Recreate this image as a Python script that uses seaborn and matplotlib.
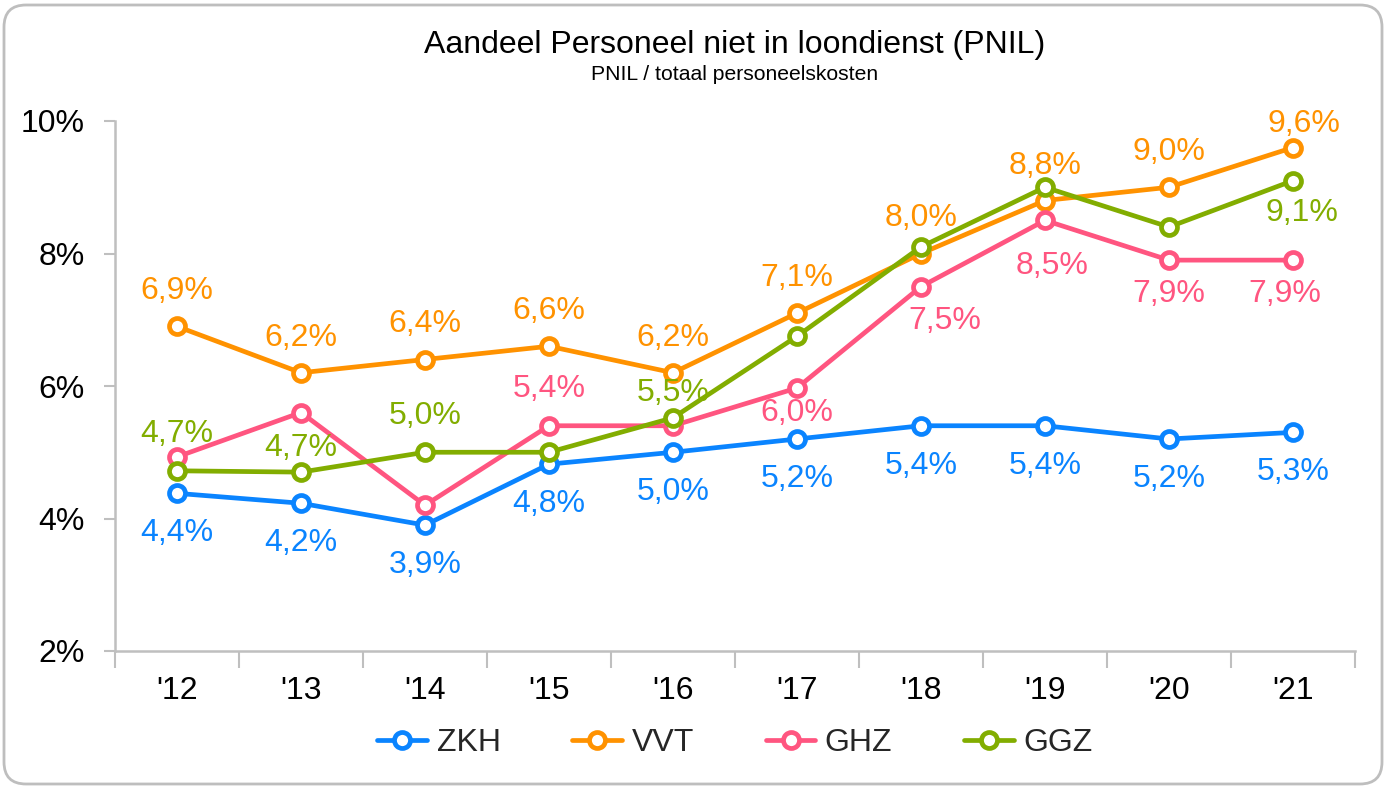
import numpy as np
import pandas as pd
import matplotlib
matplotlib.use("Agg")
import matplotlib.pyplot as plt
from matplotlib.patches import FancyBboxPatch
from matplotlib.ticker import FuncFormatter, FixedLocator
from matplotlib.lines import Line2D
import seaborn as sns

# ---------------- data ----------------
years = ["'12", "'13", "'14", "'15", "'16", "'17", "'18", "'19", "'20", "'21"]
series_names = ["ZKH", "VVT", "GHZ", "GGZ"]
zkh = [4.38, 4.23, 3.9, 4.82, 5.0, 5.2, 5.4, 5.4, 5.2, 5.3]
vvt = [6.9, 6.2, 6.4, 6.6, 6.2, 7.1, 8.0, 8.8, 9.0, 9.6]
ghz = [4.93, 5.6, 4.2, 5.4, 5.4, 5.97, 7.5, 8.5, 7.9, 7.9]
ggz = [4.72, 4.7, 5.0, 5.0, 5.52, 6.75, 8.1, 9.0, 8.4, 9.1]
y_ticks = [2, 4, 6, 8, 10]

values = {"ZKH": zkh, "VVT": vvt, "GHZ": ghz, "GGZ": ggz}

# ---------------- styling ----------------
colors = {"ZKH": "#0A84FF", "VVT": "#FF9200", "GHZ": "#FF5580", "GGZ": "#82AD00"}
# label offsets in pixels (dx, dy downward); None = no label
label_offsets = {
    "ZKH": [(0, 40)] * 10,
    "VVT": [(0, -35)] * 9 + [(11, -24)],
    "GHZ": [None, None, None, (0, -37), None, (0, 25), (24, 34), (7, 46), (0, 34), (-8, 34)],
    "GGZ": [(0, -37), (0, -24), (0, -36), None, (0, -25), None, None, None, None, (9, 32)],
}
FS = 23

sns.set_theme(style="white")
plt.rcParams["font.family"] = ["Liberation Sans", "DejaVu Sans"]

W, H = 1386, 787
fig = plt.figure(figsize=(W / 100, H / 100), dpi=100)
fig.patch.set_facecolor("white")
ax = fig.add_axes([115 / W, 1 - 651 / H, 1240 / W, 530 / H])

x = np.arange(len(years))
rows = []
for name in series_names:
    for i, yr in enumerate(years):
        rows.append({"x": x[i], "year": yr, "value": values[name][i], "series": name})
df = pd.DataFrame(rows)

LW = 3.4
for name in series_names:
    sub = df[df["series"] == name]
    sns.lineplot(data=sub, x="x", y="value", ax=ax, color=colors[name], lw=LW,
                 marker="o", ms=11.5, markerfacecolor="white",
                 markeredgecolor=colors[name], markeredgewidth=LW,
                 legend=False, clip_on=False)
    for i, v in enumerate(values[name]):
        off = label_offsets[name][i]
        if off is None:
            continue
        lab = f"{v:.1f}".replace(".", ",") + "%"
        ax.annotate(lab, (x[i], v), xytext=(off[0], -off[1]), textcoords="offset pixels",
                    ha="center", va="center", fontsize=FS, color=colors[name],
                    annotation_clip=False)

ax.set_xlim(-0.5, len(years) - 0.5)
ax.set_ylim(2, 10)
ax.set_xlabel("")
ax.set_ylabel("")

ax.xaxis.set_major_locator(FixedLocator(x))
ax.set_xticklabels(years)
ax.xaxis.set_minor_locator(FixedLocator(np.arange(-0.5, len(years), 1.0)))
ax.tick_params(axis="x", which="major", length=0, pad=18, labelsize=FS, labelcolor="black")
ax.tick_params(axis="x", which="minor", length=12, width=1.5, color="#BFBFBF", direction="out", bottom=True)

ax.yaxis.set_major_locator(FixedLocator(y_ticks))
ax.yaxis.set_major_formatter(FuncFormatter(lambda v, p: f"{v:.0f}%"))
ax.tick_params(axis="y", which="major", length=8, width=1.5, color="#BFBFBF", direction="out",
               left=True, pad=14, labelsize=FS, labelcolor="black")

for s in ["top", "right"]:
    ax.spines[s].set_visible(False)
for s in ["left", "bottom"]:
    ax.spines[s].set_color("#BFBFBF")
    ax.spines[s].set_linewidth(1.8)
ax.grid(False)

# title & subtitle
cx = (115 + 1355) / 2 / W
fig.text(cx, 1 - 45 / H, "Aandeel Personeel niet in loondienst (PNIL)", ha="center", va="center",
         fontsize=FS, color="black")
fig.text(cx, 1 - 75 / H, "PNIL / totaal personeelskosten", ha="center", va="center",
         fontsize=15.2, color="black")

# legend
handles = [Line2D([0], [0], color=colors[n], lw=LW, marker="o", ms=11.5, markerfacecolor="white",
                  markeredgecolor=colors[n], markeredgewidth=LW) for n in series_names]
fig.legend(handles, series_names, loc="center", bbox_to_anchor=(cx, 1 - 743 / H), ncol=4,
           frameon=False, fontsize=FS, handlelength=1.55, handletextpad=0.3,
           columnspacing=2.25)

# rounded border
border = FancyBboxPatch((4, 3), W - 8, H - 8, boxstyle="round,pad=0,rounding_size=22",
                        transform=None, facecolor="none", edgecolor="#BEBEBE", lw=2)
fig.patches.append(border)

fig.savefig("out.png", dpi=100, facecolor="white")
